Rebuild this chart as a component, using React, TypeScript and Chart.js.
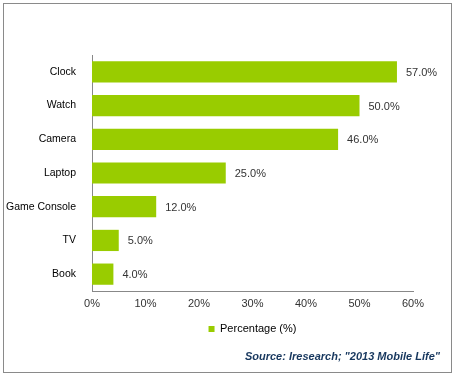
import React, { useEffect, useRef } from "react";
import { Chart, registerables } from "chart.js";

Chart.register(...registerables);

const categories = ["Clock", "Watch", "Camera", "Laptop", "Game Console", "TV", "Book"];
const percentages = [57.0, 50.0, 46.0, 25.0, 12.0, 5.0, 4.0];
const seriesName = "Percentage (%)";
const sourceText = 'Source: Iresearch; "2013 Mobile Life"';

const FONT = "'Liberation Sans', Arial, sans-serif";

const valueLabels = {
  id: "valueLabels",
  afterDatasetsDraw(chart: any) {
    const ctx = chart.ctx;
    const meta = chart.getDatasetMeta(0);
    ctx.save();
    ctx.font = `11px ${FONT}`;
    ctx.fillStyle = "#333333";
    ctx.textAlign = "left";
    ctx.textBaseline = "middle";
    meta.data.forEach((bar: any, i: number) => {
      const v = chart.data.datasets[0].data[i] as number;
      ctx.fillText(v.toFixed(1) + "%", bar.x + 9, bar.y + 1);
    });
    ctx.restore();
  },
};

export default function App() {
  const ref = useRef<HTMLCanvasElement>(null);
  useEffect(() => {
    document.body.style.margin = "0";
    const chart = new Chart(ref.current as HTMLCanvasElement, {
      type: "bar",
      data: {
        labels: categories,
        datasets: [
          {
            label: seriesName,
            data: percentages,
            backgroundColor: "#99cc00",
            borderWidth: 0,
            barPercentage: 0.63,
            categoryPercentage: 1,
          },
        ],
      },
      options: {
        indexAxis: "y",
        responsive: false,
        animation: false,
        layout: { padding: { top: 55, left: 0, right: 14, bottom: 4 } },
        scales: {
          x: {
            min: 0,
            max: 60,
            grid: { display: false, drawTicks: false },
            border: { display: true, color: "#888888" },
            ticks: {
              stepSize: 10,
              padding: 6,
              color: "#333333",
              font: { family: FONT, size: 11 },
              callback: (v: any) => v + "%",
            },
            afterFit: (s: any) => {
              s.height = 22.5;
            },
          },
          y: {
            grid: { display: false, drawTicks: false },
            border: { display: true, color: "#888888" },
            ticks: {
              padding: 16,
              color: "#000000",
              font: { family: FONT, size: 10.5 },
            },
            afterFit: (s: any) => {
              s.width = 92;
            },
          },
          y2: {
            type: "linear",
            position: "right",
            display: true,
            grid: { display: false, drawTicks: false },
            border: { display: false },
            ticks: { display: false },
            afterFit: (s: any) => {
              s.width = 27;
            },
          },
        },
        plugins: {
          legend: {
            position: "bottom",
            fullSize: false,
            labels: {
              boxWidth: 6,
              boxHeight: 6,
              padding: 10,
              color: "#000000",
              font: { family: FONT, size: 11 },
            },
          },
          title: {
            display: true,
            position: "bottom",
            align: "end",
            text: sourceText,
            color: "#17375e",
            font: { family: FONT, size: 11, weight: "bold", style: "italic" },
            padding: { top: 6.3, bottom: 8 },
          },
          tooltip: { enabled: false },
        },
      },
      plugins: [valueLabels],
    } as any);
    return () => chart.destroy();
  }, []);
  return (
    <div style={{ position: "fixed", left: 0, top: 0, width: 454, height: 376, background: "#ffffff" }}>
      <canvas ref={ref} width={454} height={376} style={{ position: "absolute", left: 0, top: 0 }} />
      <div
        style={{
          position: "absolute",
          left: 3,
          top: 3,
          width: 447,
          height: 368,
          border: "1px solid #8a8a8a",
          pointerEvents: "none",
        }}
      />
    </div>
  );
}
